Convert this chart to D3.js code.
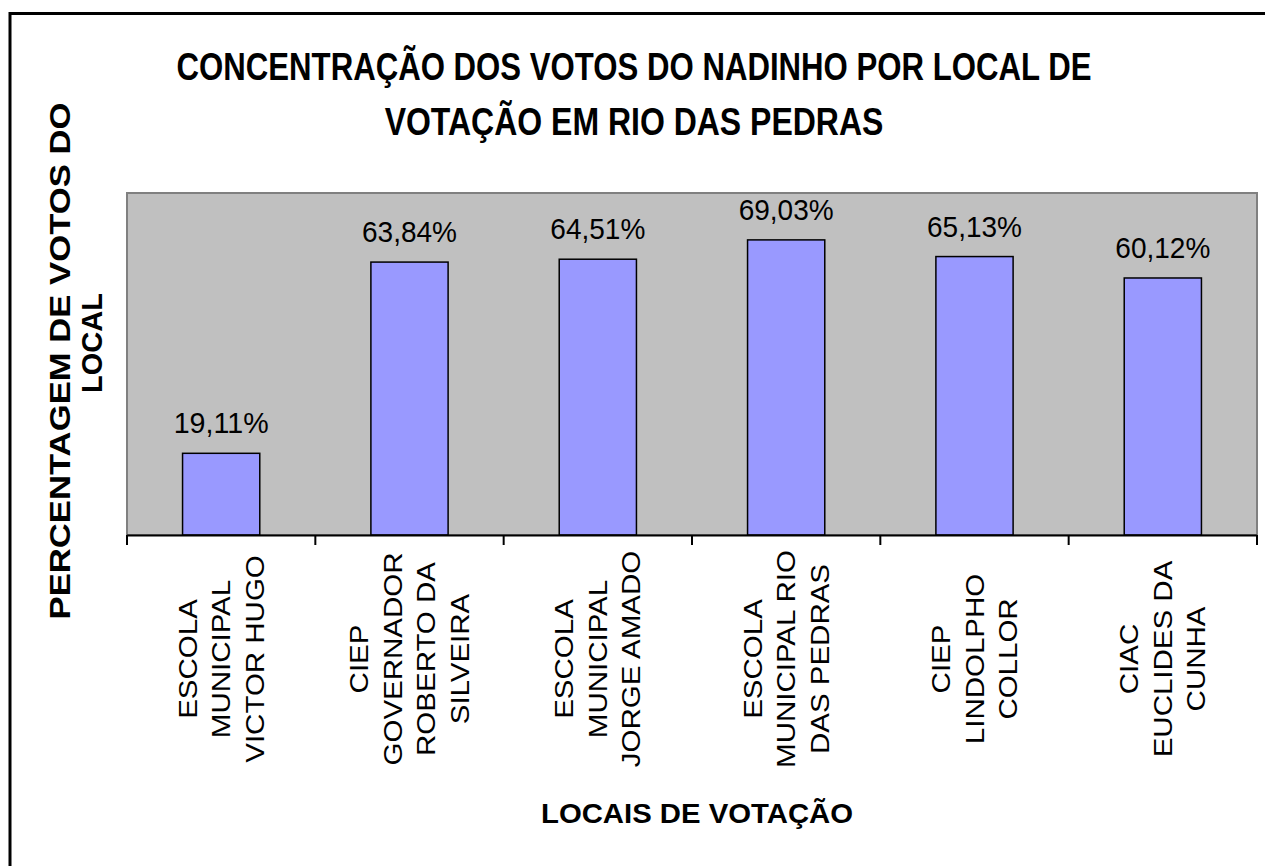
<!DOCTYPE html>
<html lang="pt">

<head>
  <meta charset="UTF-8" />
  <title>Votos do Nadinho</title>
  <script src="https://d3js.org/d3.v7.min.js"></script>
  <style>
    body {
      margin: 0;
      background-color: #fff;
    }

    text {
      font-family: "Liberation Sans", Arial, sans-serif;
      fill: #000;
    }

    .bold {
      font-weight: bold;
    }
  </style>
</head>

<body>
  <svg id="chart" width="1265" height="866"></svg>

  <script>
    // data
    const locais = [
      ["ESCOLA", "MUNICIPAL", "VICTOR HUGO"],
      ["CIEP", "GOVERNADOR", "ROBERTO DA", "SILVEIRA"],
      ["ESCOLA", "MUNICIPAL", "JORGE AMADO"],
      ["ESCOLA", "MUNICIPAL RIO", "DAS PEDRAS"],
      ["CIEP", "LINDOLPHO", "COLLOR"],
      ["CIAC", "EUCLIDES DA", "CUNHA"]
    ];
    const percentuais = [19.11, 63.84, 64.51, 69.03, 65.13, 60.12];
    const rotulos = ["19,11%", "63,84%", "64,51%", "69,03%", "65,13%", "60,12%"];
    const titulo = ["CONCENTRAÇÃO DOS VOTOS DO NADINHO POR LOCAL DE", "VOTAÇÃO EM RIO DAS PEDRAS"];
    const tituloY = ["PERCENTAGEM DE VOTOS DO", "LOCAL"];
    const tituloX = "LOCAIS DE VOTAÇÃO";

    const svg = d3.select("#chart");
    const plot = { left: 127, top: 193, right: 1257, bottom: 535 };

    // outer frame (runs off the bottom/right of the picture)
    svg.append("rect")
      .attr("x", 10)
      .attr("y", 13.5)
      .attr("width", 2000)
      .attr("height", 2000)
      .attr("fill", "none")
      .attr("stroke", "#000")
      .attr("stroke-width", 3);

    const x = d3.scaleBand()
      .domain(d3.range(percentuais.length))
      .range([plot.left, plot.right])
      .paddingInner(0.59)
      .paddingOuter(0.295);

    const y = d3.scaleLinear()
      .domain([0, 80])
      .range([plot.bottom, plot.top]);

    // plot area
    svg.append("rect")
      .attr("x", plot.left)
      .attr("y", plot.top)
      .attr("width", plot.right - plot.left)
      .attr("height", plot.bottom - plot.top)
      .attr("fill", "#C0C0C0")
      .attr("stroke", "#808080")
      .attr("stroke-width", 2);

    // bars
    svg.append("g")
      .selectAll("rect")
      .data(percentuais)
      .join("rect")
      .attr("x", (d, i) => x(i))
      .attr("y", d => y(d))
      .attr("width", x.bandwidth())
      .attr("height", d => y(0) - y(d))
      .attr("fill", "#9999FF")
      .attr("stroke", "#000")
      .attr("stroke-width", 1.5);

    // value labels
    svg.append("g")
      .selectAll("text")
      .data(percentuais)
      .join("text")
      .attr("x", (d, i) => x(i) + x.bandwidth() / 2)
      .attr("y", d => y(d) - 20)
      .attr("text-anchor", "middle")
      .attr("textLength", 95)
      .attr("lengthAdjust", "spacingAndGlyphs")
      .style("font-size", "30px")
      .text((d, i) => rotulos[i]);

    // x axis: line + ticks between categories
    const step = x.step();
    const tickPos = d3.range(percentuais.length + 1).map(i => plot.left + i * step);
    svg.append("line")
      .attr("x1", plot.left)
      .attr("x2", plot.right)
      .attr("y1", plot.bottom + 0.5)
      .attr("y2", plot.bottom + 0.5)
      .attr("stroke", "#000")
      .attr("stroke-width", 2);
    svg.append("g")
      .selectAll("line")
      .data(tickPos)
      .join("line")
      .attr("x1", d => d)
      .attr("x2", d => d)
      .attr("y1", plot.bottom)
      .attr("y2", plot.bottom + 10)
      .attr("stroke", "#000")
      .attr("stroke-width", 2);

    // rotated category labels
    const lineGap = 33.5;
    const catG = svg.append("g")
      .selectAll("g")
      .data(locais)
      .join("g")
      .attr("transform", (d, i) =>
        `translate(${x(i) + x.bandwidth() / 2},659) rotate(-90) scale(1.18,1)`);
    catG.selectAll("text")
      .data(d => d.map((t, j) => ({ t: t, off: (j - (d.length - 1) / 2) * lineGap })))
      .join("text")
      .attr("x", 0)
      .attr("y", d => d.off + 9)
      .attr("text-anchor", "middle")
      .style("font-size", "25px")
      .text(d => d.t);

    // chart title - squeezed horizontally to the widths in the original
    const titleWidths = [915, 499];
    svg.append("g")
      .selectAll("text")
      .data(titulo)
      .join("text")
      .attr("class", "bold")
      .attr("text-anchor", "middle")
      .style("font-size", "38px")
      .text(d => d)
      .attr("transform", function (d, i) {
        const w = this.getComputedTextLength();
        const k = titleWidths[i] / w;
        return `translate(634,${i === 0 ? 80 : 135}) scale(${k},1)`;
      });

    // y axis title
    svg.append("text")
      .attr("class", "bold")
      .attr("transform", "translate(70,361) rotate(-90)")
      .attr("text-anchor", "middle")
      .attr("textLength", 517)
      .attr("lengthAdjust", "spacingAndGlyphs")
      .style("font-size", "29px")
      .text(tituloY[0]);
    svg.append("text")
      .attr("class", "bold")
      .attr("transform", "translate(102,343) rotate(-90)")
      .attr("text-anchor", "middle")
      .style("font-size", "29px")
      .text(tituloY[1]);

    // x axis title
    svg.append("text")
      .attr("class", "bold")
      .attr("x", 697)
      .attr("y", 823)
      .attr("text-anchor", "middle")
      .attr("textLength", 312)
      .attr("lengthAdjust", "spacingAndGlyphs")
      .style("font-size", "28px")
      .text(tituloX);
  </script>
</body>

</html>
